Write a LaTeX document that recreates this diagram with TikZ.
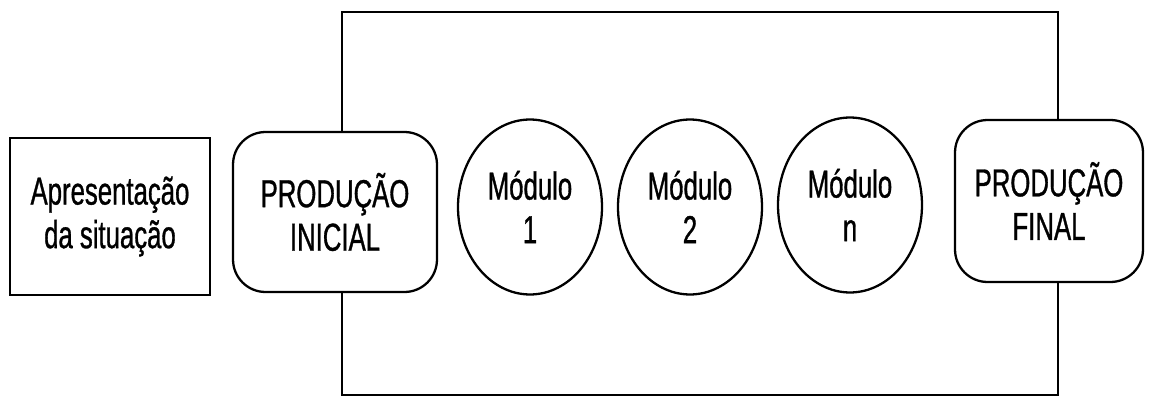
\documentclass[tikz,border=0pt]{standalone}
\usepackage{fontspec}
\setmainfont{Liberation Sans}[FakeStretch=0.66,FakeBold=0.8]
\usetikzlibrary{shapes.geometric}
\begin{document}
\begin{tikzpicture}[x=0.02cm,y=-0.02cm,
  every node/.style={line width=1.3pt,align=center,inner sep=0pt,
    font=\fontsize{22.2}{24.8}\selectfont},
  boxnode/.style={draw,rectangle},
  roundnode/.style={draw,rectangle,rounded corners=0.65cm},
  modnode/.style={draw,ellipse,minimum width=2.88cm,minimum height=3.5cm},
  frame/.style={line width=1.3pt}]
\useasboundingbox (0,0) rectangle (1154,399);
\node[boxnode,minimum width=4cm,minimum height=3.14cm] (apres) at (110,216.5) {Apresentação\\da situação};
\node[roundnode,minimum width=4.08cm,minimum height=3.2cm] (ini) at (335,212) {PRODUÇÃO\\INICIAL};
\node[modnode] (m1) at (530,207) {Módulo\\1};
\node[modnode] (m2) at (690,207) {Módulo\\2};
\node[modnode] (mn) at (850,205) {Módulo\\n};
\node[roundnode,minimum width=3.76cm,minimum height=3.24cm] (fin) at (1049,201) {PRODUÇÃO\\FINAL};
\coordinate (tl) at (342,12);
\coordinate (tr) at (1058,12);
\coordinate (bl) at (342,395);
\coordinate (br) at (1058,395);
\draw[frame] (ini.north -| tl) -- (tl) -- (tr) -- (fin.north -| tr);
\draw[frame] (ini.south -| bl) -- (bl) -- (br) -- (fin.south -| br);
\end{tikzpicture}
\end{document}
